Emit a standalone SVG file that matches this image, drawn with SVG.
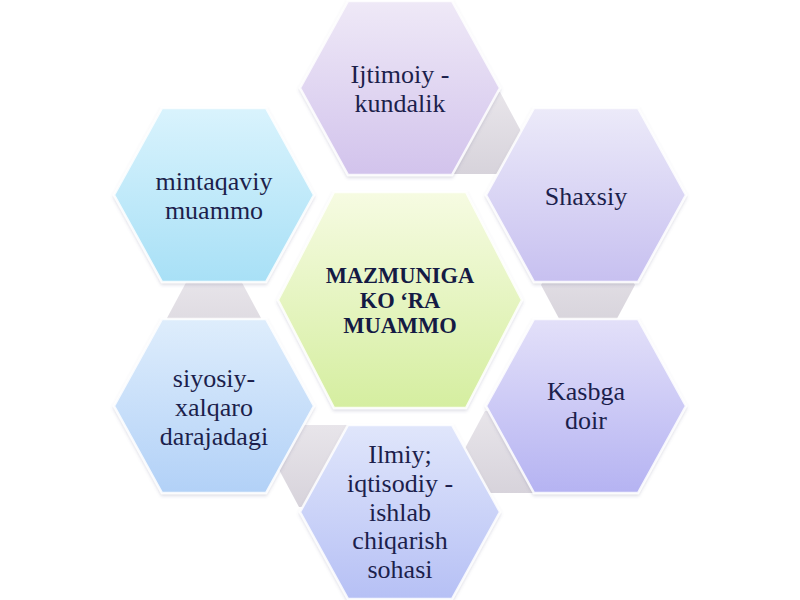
<svg xmlns="http://www.w3.org/2000/svg" width="800" height="600" viewBox="0 0 800 600">
  <defs>
    <linearGradient id="gTop" x1="0" y1="0" x2="0" y2="1">
      <stop offset="0" stop-color="#efe9f7"/>
      <stop offset="1" stop-color="#d2c3ec"/>
    </linearGradient>
    <linearGradient id="gShax" x1="0" y1="0" x2="0" y2="1">
      <stop offset="0" stop-color="#eceaf9"/>
      <stop offset="1" stop-color="#c7c0f0"/>
    </linearGradient>
    <linearGradient id="gKasb" x1="0" y1="0" x2="0" y2="1">
      <stop offset="0" stop-color="#e3e0f9"/>
      <stop offset="1" stop-color="#b5b3f2"/>
    </linearGradient>
    <linearGradient id="gIlm" x1="0" y1="0" x2="0" y2="1">
      <stop offset="0" stop-color="#e0e6fb"/>
      <stop offset="1" stop-color="#b6c0f5"/>
    </linearGradient>
    <linearGradient id="gSiy" x1="0" y1="0" x2="0" y2="1">
      <stop offset="0" stop-color="#deedfc"/>
      <stop offset="1" stop-color="#b2d1f7"/>
    </linearGradient>
    <linearGradient id="gMin" x1="0" y1="0" x2="0" y2="1">
      <stop offset="0" stop-color="#d9f3fd"/>
      <stop offset="1" stop-color="#a8e0f6"/>
    </linearGradient>
    <linearGradient id="gCen" x1="0" y1="0" x2="0" y2="1">
      <stop offset="0" stop-color="#f6fbe2"/>
      <stop offset="1" stop-color="#d5eea0"/>
    </linearGradient>
    <linearGradient id="gGrey" x1="0" y1="0" x2="0" y2="1">
      <stop offset="0" stop-color="#e8e5ea"/>
      <stop offset="1" stop-color="#d7d3db"/>
    </linearGradient>
    <filter id="sh" x="-10%" y="-10%" width="120%" height="125%">
      <feDropShadow dx="0" dy="2" stdDeviation="1.5" flood-color="#6a6a90" flood-opacity="0.22"/>
    </filter>
  </defs>
  <style>
    .hex { stroke: #ffffff; stroke-width: 2.5; stroke-opacity: 0.85; filter: url(#sh); }
    .con { fill: url(#gGrey); stroke: none; }
    .t { font-family: "Liberation Serif", "Times New Roman", serif; font-size: 26px; fill: #1c1f4c; text-anchor: middle; }
    .tc { font-family: "Liberation Serif", "Times New Roman", serif; font-size: 22.5px; font-weight: bold; fill: #141a44; text-anchor: middle; }
  </style>
  <rect width="800" height="600" fill="#ffffff"/>

  <g id="connectors">
    <polygon class="con" points="428,133 450,92 500,92 522,133 500,174 450,174"/>
    <polygon class="con" points="541,285 563,244 613,244 635,285 613,326 563,326"/>
    <polygon class="con" points="463,452 485,411 535,411 557,452 535,493 485,493"/>
    <polygon class="con" points="277,466 299,425 349,425 371,466 349,507 299,507"/>
    <polygon class="con" points="167,318 189,277 239,277 261,318 239,359 189,359"/>
  </g>

  <g id="node-center">
    <polygon class="hex" fill="url(#gCen)" points="278,300 334,192 466,192 522,300 466,408 334,408"/>
    <text class="tc" x="400" y="283">MAZMUNIGA</text>
    <text class="tc" x="400" y="308">KO ‘RA</text>
    <text class="tc" x="400" y="333">MUAMMO</text>
  </g>

  <g id="node-ijtimoiy">
    <polygon class="hex" fill="url(#gTop)" points="300,88 348,1 452,1 500,88 452,175 348,175"/>
    <text class="t" x="400" y="83">Ijtimoiy -</text>
    <text class="t" x="400" y="112">kundalik</text>
  </g>

  <g id="node-shaxsiy">
    <polygon class="hex" fill="url(#gShax)" points="486,195 534,108 638,108 686,195 638,282 534,282"/>
    <text class="t" x="586" y="205">Shaxsiy</text>
  </g>

  <g id="node-kasbga">
    <polygon class="hex" fill="url(#gKasb)" points="486,406 534,319 638,319 686,406 638,493 534,493"/>
    <text class="t" x="586" y="400">Kasbga</text>
    <text class="t" x="586" y="429">doir</text>
  </g>

  <g id="node-ilmiy">
    <polygon class="hex" fill="url(#gIlm)" points="300,512 348,425 452,425 500,512 452,599 348,599"/>
    <text class="t" x="400" y="463">Ilmiy;</text>
    <text class="t" x="400" y="492">iqtisodiy -</text>
    <text class="t" x="400" y="521">ishlab</text>
    <text class="t" x="400" y="549">chiqarish</text>
    <text class="t" x="400" y="578">sohasi</text>
  </g>

  <g id="node-siyosiy">
    <polygon class="hex" fill="url(#gSiy)" points="114,406 162,319 266,319 314,406 266,493 162,493"/>
    <text class="t" x="214" y="387">siyosiy-</text>
    <text class="t" x="214" y="416">xalqaro</text>
    <text class="t" x="214" y="445">darajadagi</text>
  </g>

  <g id="node-mintaqaviy">
    <polygon class="hex" fill="url(#gMin)" points="114,195 162,108 266,108 314,195 266,282 162,282"/>
    <text class="t" x="214" y="190">mintaqaviy</text>
    <text class="t" x="214" y="219">muammo</text>
  </g>
</svg>
